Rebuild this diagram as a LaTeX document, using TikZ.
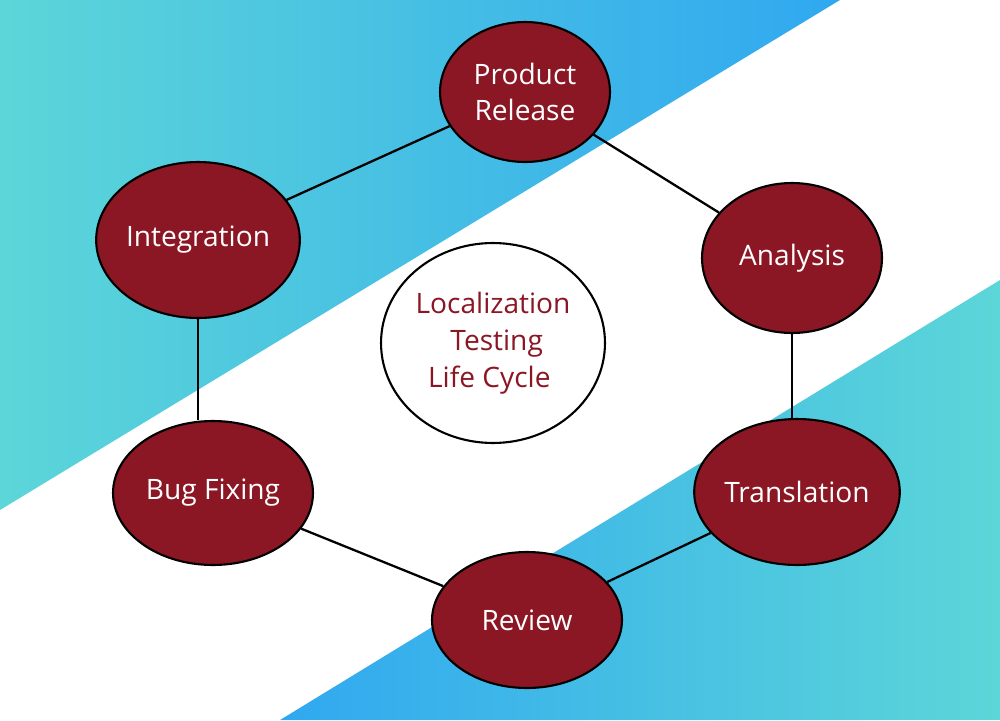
\documentclass[tikz,border=0pt]{standalone}
\usepackage{fontspec}
\setmainfont{Open Sans}
\usetikzlibrary{shapes.geometric}
\definecolor{stagered}{HTML}{8B1624}
\definecolor{bgblue}{HTML}{30A8F0}
\definecolor{bgteal}{HTML}{5CD6D8}
\tikzset{
  stage/.style={ellipse,draw=black,line width=1.2pt,fill=stagered,text=white,
    font=\fontsize{16}{21}\selectfont,align=center,inner sep=0pt},
  link/.style={line width=1.3pt,black}
}
\begin{document}
\begin{tikzpicture}[x=0.02cm,y=-0.02cm]
 \useasboundingbox (0,0) rectangle (1000,720);
 % background bands
 \fill[white] (0,0) rectangle (1000,720);
 \shade[shading angle=-60,left color=bgteal,right color=bgblue]
   (0,0)--(840,0)--(0,510)--cycle;
 \shade[shading angle=-60,left color=bgblue,right color=bgteal]
   (1000,280)--(1000,720)--(280,720)--cycle;
 % stages
 \node[stage,minimum width=3.4cm,minimum height=2.8cm] (release) at (525,92) {Product\\Release};
 \node[stage,minimum width=3.6cm,minimum height=3.0cm] (analysis) at (792,258) {Analysis};
 \node[stage,minimum width=3.52cm,minimum height=2.92cm] (translation) at (797,492) {Translation};
 \node[stage,minimum width=3.8cm,minimum height=2.72cm] (review) at (527,620) {Review};
 \node[stage,minimum width=4.0cm,minimum height=2.88cm] (bugfix) at (213,493) {Bug Fixing};
 \node[stage,minimum width=3.8cm,minimum height=3.12cm] (integration) at (198,240) {Integration};
 \node[ellipse,draw=black,line width=1.2pt,fill=white,text=stagered,align=center,
   font=\fontsize{16}{21}\selectfont,minimum width=4.48cm,minimum height=4.0cm,inner sep=0pt]
   (cycle) at (493,343) {Localization\\ \ Testing\\Life Cycle\ \ };
 % links
 \draw[link] (release) -- (analysis);
 \draw[link] (analysis.south) -- (analysis.south |- translation.north);
 \draw[link] (translation) -- (review);
 \draw[link] (review) -- (bugfix);
 \draw[link] (integration.south) -- (integration.south |- bugfix.north);
 \draw[link] (integration) -- (release);
\end{tikzpicture}
\end{document}
